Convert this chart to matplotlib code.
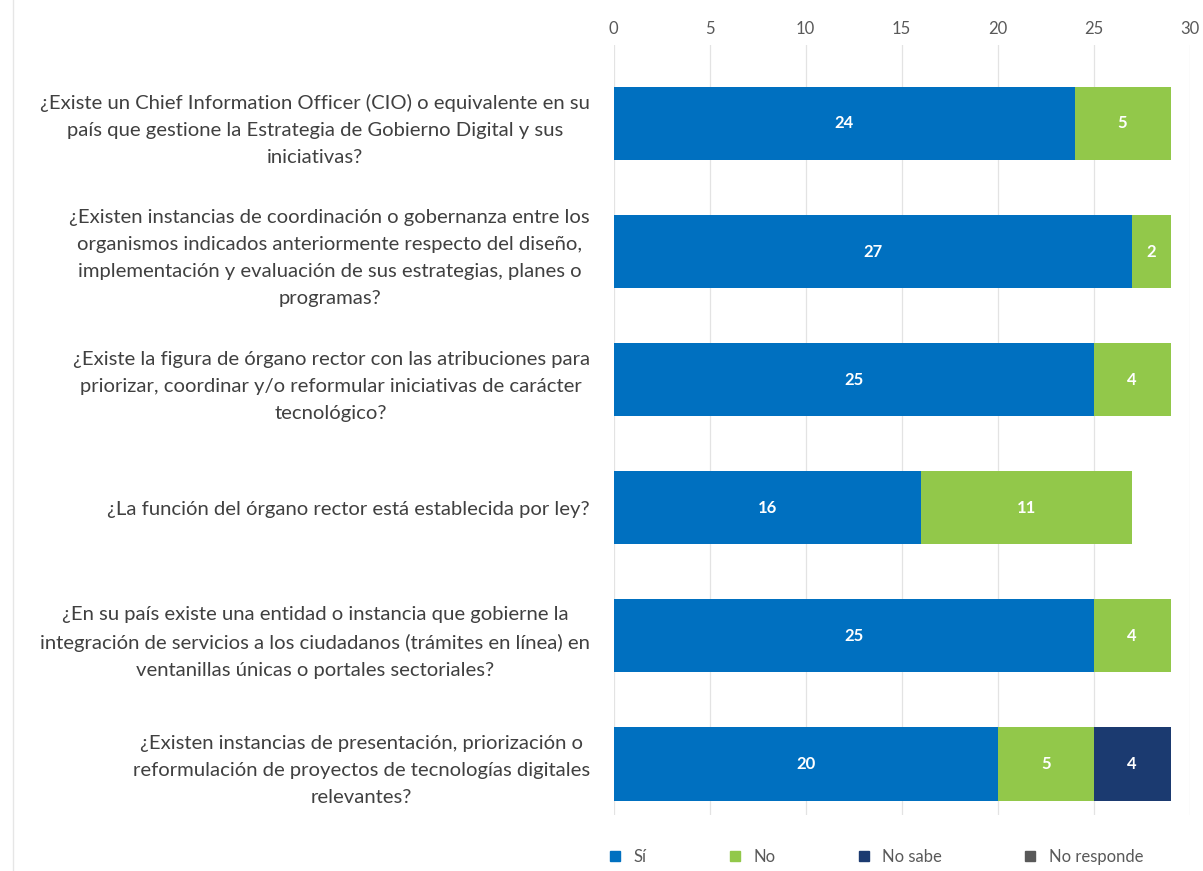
import numpy as np
import matplotlib.pyplot as plt
from matplotlib.lines import Line2D

preguntas = [
    "¿Existe un Chief Information Officer (CIO) o equivalente en su\npaís que gestione la Estrategia de Gobierno Digital y sus\niniciativas?",
    "¿Existen instancias de coordinación o gobernanza entre los\norganismos indicados anteriormente respecto del diseño,\nimplementación y evaluación de sus estrategias, planes o\nprogramas?",
    "¿Existe la figura de órgano rector con las atribuciones para\npriorizar, coordinar y/o reformular iniciativas de carácter\ntecnológico?",
    "¿La función del órgano rector está establecida por ley?",
    "¿En su país existe una entidad o instancia que gobierne la\nintegración de servicios a los ciudadanos (trámites en línea) en\nventanillas únicas o portales sectoriales?",
    "¿Existen instancias de presentación, priorización o\nreformulación de proyectos de tecnologías digitales\nrelevantes?",
]
si = [24, 27, 25, 16, 25, 20]
no = [5, 2, 4, 11, 4, 5]
no_sabe = [0, 0, 0, 0, 0, 4]
no_responde = [0, 0, 0, 0, 0, 0]
series_names = ["Sí", "No", "No sabe", "No responde"]
colors = ["#0070C0", "#92C84A", "#1B3A70", "#595959"]

plt.rcParams['font.family'] = ['Lato', 'DejaVu Sans']

fig = plt.figure(figsize=(12.03, 8.71), dpi=100)
ax = fig.add_axes([0.510, 0.064, 0.479, 0.884])

y = np.arange(len(preguntas))
left = np.zeros(len(preguntas))
for name, vals, col in zip(series_names, [si, no, no_sabe, no_responde], colors):
    vals = np.array(vals, dtype=float)
    bars = ax.barh(y, vals, left=left, height=0.57, color=col, label=name, zorder=3)
    for b, v in zip(bars, vals):
        if v > 0:
            ax.text(b.get_x() + b.get_width() / 2, b.get_y() + b.get_height() / 2,
                    f"{int(v)}", ha='center', va='center', color='white',
                    fontsize=12, fontweight='bold', zorder=4)
    left += vals

ax.set_xlim(0, 30)
ax.set_ylim(5.4, -0.61)
ax.set_xticks(range(0, 31, 5))
ax.xaxis.tick_top()
ax.tick_params(axis='x', length=0, labelsize=12, labelcolor='#595959', pad=6)
ax.set_yticks(y)
ax.set_yticklabels(preguntas, fontsize=14.6, color='#404040',
                   multialignment='center')
for lab in ax.get_yticklabels():
    lab.set_linespacing(1.72)
ax.tick_params(axis='y', length=0, pad=17)
ax.grid(axis='x', color='#e3e3e3', linewidth=0.9, zorder=0)
for s in ax.spines.values():
    s.set_visible(False)

handles = [Line2D([0], [0], marker='s', linestyle='none', markersize=7,
                  markerfacecolor=c, markeredgecolor=c) for c in colors]
fig.legend(handles, series_names, loc='center', bbox_to_anchor=(0.724, 0.016),
           ncol=4, frameon=False, fontsize=12, labelcolor='#595959',
           handletextpad=0.1, columnspacing=4.3)

# light frame line at the left edge as in the source
fig.add_artist(Line2D([0.011, 0.011], [0, 1], transform=fig.transFigure,
                      color='#e6e6e6', linewidth=1))

fig.savefig("out.png", dpi=100)
